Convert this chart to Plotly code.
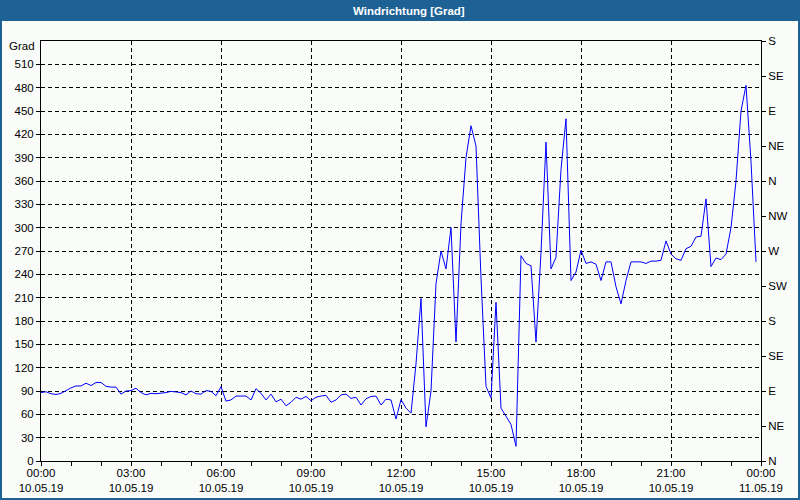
import plotly.graph_objects as go
import pandas as pd

# ---- data -------------------------------------------------------------
start_time = "2019-05-10 00:00"
end_time = "2019-05-11 00:00"
times = pd.date_range(start_time, periods=144, freq="10min")

wind_dir = [
    88, 89, 86.5, 85.5, 87, 91, 94, 96.5, 96.5, 100,
    97, 101, 101, 96, 95, 95, 86, 90, 90.5, 93.5,
    88, 85, 87, 86.5, 87, 88, 89.5, 89, 88, 85,
    90, 86.5, 86, 90.5, 89.5, 84, 95.5, 77, 78.5, 83.5,
    83.5, 83.5, 78.5, 93, 87, 78.5, 86, 76, 79.5, 71,
    75.5, 82, 79.5, 83, 77.5, 82, 83.5, 84.5, 75.5, 78.5,
    85, 86, 80.5, 82, 72, 80, 83, 83.5, 72, 79.5,
    78.5, 54, 79, 68, 61.5, 125, 209, 44, 90, 228,
    270, 247, 300, 153, 305, 390, 431, 405, 235, 96,
    81, 204, 68, 58, 47, 19, 264, 254, 251, 153,
    268, 410, 247, 262, 375, 440, 232, 243, 271, 254,
    256, 253, 232, 256, 256, 224, 202, 232, 256, 256,
    256, 254, 257, 257, 258, 283, 266, 260, 258, 273,
    276, 288, 289, 337, 250, 261, 259, 266, 300, 360,
    450, 483, 385, 256,
]

x_tick_vals = ["2019-05-10 00:00", "2019-05-10 03:00", "2019-05-10 06:00",
               "2019-05-10 09:00", "2019-05-10 12:00", "2019-05-10 15:00",
               "2019-05-10 18:00", "2019-05-10 21:00", "2019-05-11 00:00"]
x_tick_text = ["00:00<br>10.05.19", "03:00<br>10.05.19", "06:00<br>10.05.19",
               "09:00<br>10.05.19", "12:00<br>10.05.19", "15:00<br>10.05.19",
               "18:00<br>10.05.19", "21:00<br>10.05.19", "00:00<br>11.05.19"]

y_tick_vals = [0, 30, 60, 90, 120, 150, 180, 210, 240, 270, 300, 330, 360, 390, 420, 450, 480, 510]
compass_vals = [0, 45, 90, 135, 180, 225, 270, 315, 360, 405, 450, 495, 540]
compass_text = ["N", "NE", "E", "SE", "S", "SW", "W", "NW", "N", "NE", "E", "SE", "S"]

title_text = "Windrichtung [Grad]"
unit_text = "Grad"

# ---- styling ----------------------------------------------------------
BG = "#FAFCFA"
FRAME = "#1E6295"
FONT = "Liberation Sans"
FS = 11.5
W, H = 800, 500
ML, MR, MT, MB = 41, 39, 41, 39
PW, PH = W - ML - MR, H - MT - MB


def px_x(p):
    return (p - ML) / PW


def px_y(p):
    return (H - MB - p) / PH


fig = go.Figure()
fig.add_trace(go.Scatter(x=times, y=wind_dir, yaxis="y2", mode="lines",
                         line=dict(width=0, color=BG), opacity=0,
                         hoverinfo="skip", showlegend=False))
fig.add_trace(go.Scatter(x=times, y=wind_dir, mode="lines",
                         line=dict(color="#0000FF", width=1),
                         showlegend=False))

grid_dash = "4px,3px"
tf = dict(family=FONT, size=FS, color="black")
fig.update_layout(
    width=W, height=H,
    margin=dict(l=ML, r=MR, t=MT, b=MB, pad=0, autoexpand=False),
    paper_bgcolor=BG, plot_bgcolor=BG,
    font=tf,
    showlegend=False,
    xaxis=dict(
        type="date", range=[start_time, end_time], automargin=False,
        tickmode="array", tickvals=x_tick_vals, ticktext=x_tick_text,
        ticks="outside", ticklen=4, tickcolor="black", tickwidth=1,
        ticklabelstandoff=-3,
        showline=True, linecolor="black", linewidth=1, mirror=True,
        showgrid=True, gridcolor="black", gridwidth=1, griddash=grid_dash,
        zeroline=False,
        minor=dict(dtick=3600000, ticks="outside", ticklen=4,
                   tickcolor="black", showgrid=False),
        tickfont=tf,
    ),
    yaxis=dict(
        range=[0, 540], tickmode="array", tickvals=y_tick_vals, automargin=False,
        ticks="outside", ticklen=4, tickcolor="black",
        showline=True, linecolor="black", linewidth=1,
        showgrid=True, gridcolor="black", gridwidth=1, griddash=grid_dash,
        zeroline=False,
        tickfont=tf,
    ),
    yaxis2=dict(
        range=[0, 540], overlaying="y", side="right", automargin=False,
        tickmode="array", tickvals=compass_vals, ticktext=compass_text,
        ticks="outside", ticklen=4, tickcolor="black",
        showline=True, linecolor="black", linewidth=1,
        showgrid=False, zeroline=False,
        tickfont=tf,
    ),
    shapes=[
        dict(type="rect", xref="paper", yref="paper",
             x0=px_x(0), x1=px_x(W), y0=px_y(21), y1=px_y(0),
             fillcolor=FRAME, line=dict(width=0), layer="above"),
        dict(type="rect", xref="paper", yref="paper",
             x0=px_x(1), x1=px_x(W - 1), y0=px_y(H - 1), y1=px_y(1),
             fillcolor="rgba(0,0,0,0)", line=dict(width=2, color=FRAME),
             layer="above"),
    ],
    annotations=[
        dict(text="<b>" + title_text + "</b>", xref="paper", yref="paper",
             x=px_x(409), y=px_y(11), xanchor="center", yanchor="middle",
             showarrow=False, font=dict(family=FONT, size=11.5, color="white")),
        dict(text=unit_text, xref="paper", yref="paper",
             x=px_x(37), y=px_y(46), xanchor="right", yanchor="middle",
             showarrow=False, font=tf),
    ],
)

fig.write_html(
    "out.html",
    config={"displayModeBar": False},
    post_script="document.body.style.margin='0';document.body.style.overflow='hidden';",
)
